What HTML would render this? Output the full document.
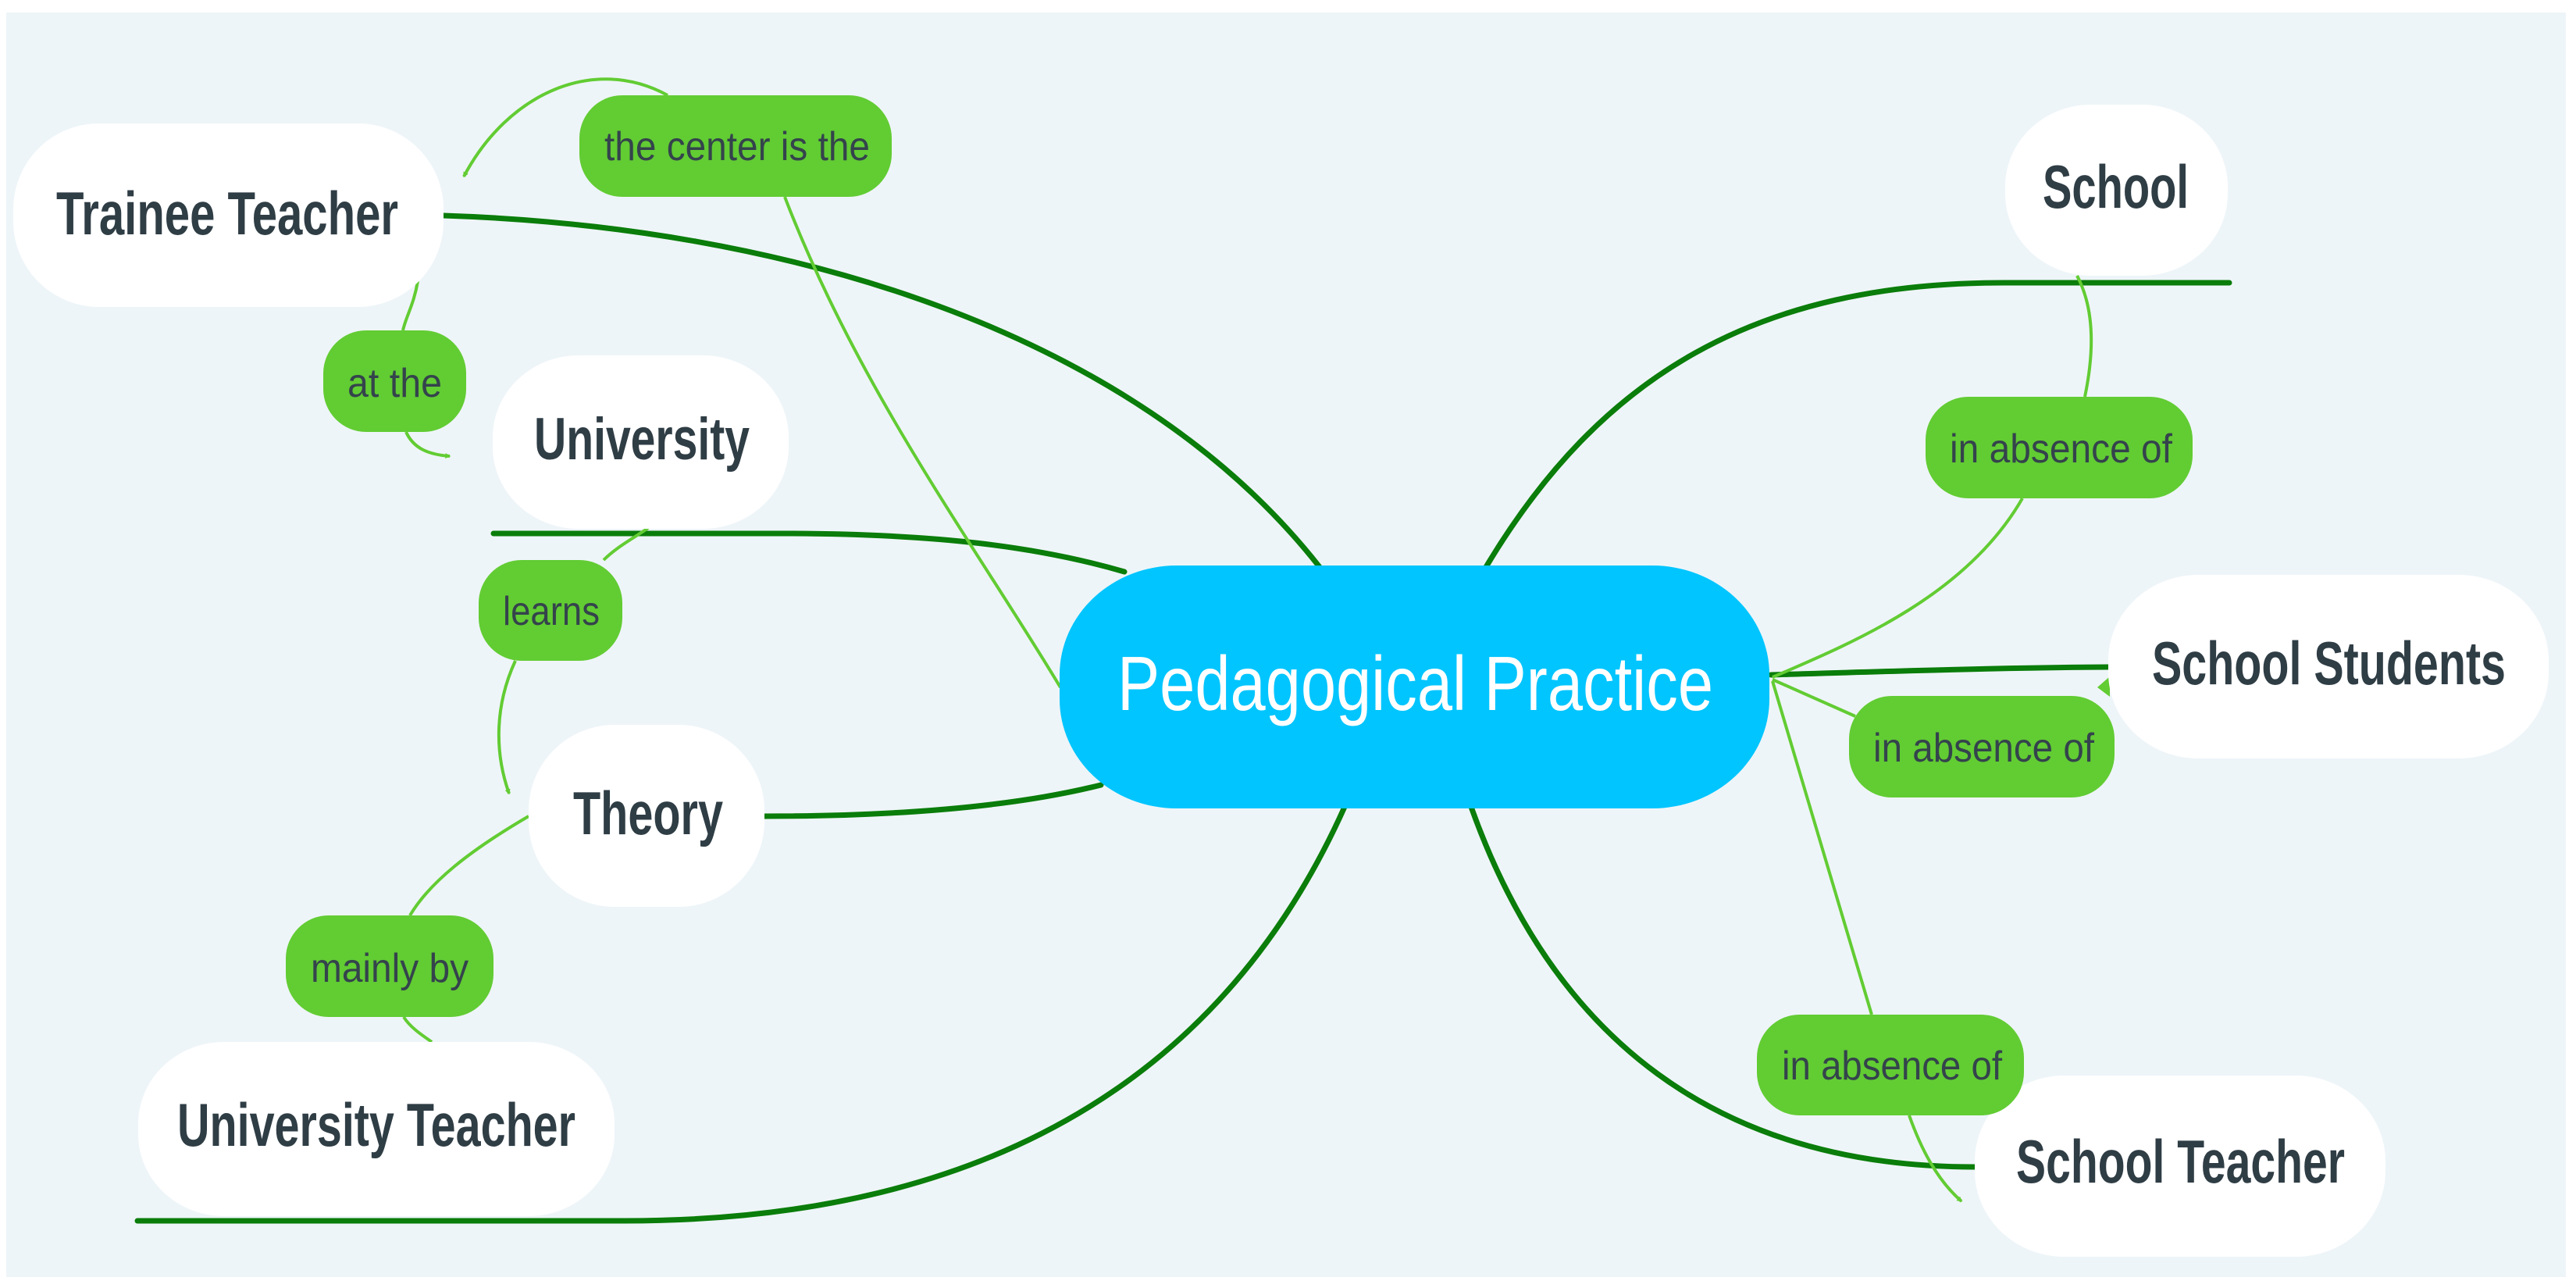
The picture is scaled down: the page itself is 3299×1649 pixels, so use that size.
<!DOCTYPE html>
<html><head><meta charset="utf-8"><style>
html,body{margin:0;padding:0;background:#fff;}
svg{display:block;}
.n{font-family:"Liberation Sans",sans-serif;font-weight:bold;fill:#2f3d45;}
.l{font-family:"Liberation Sans",sans-serif;fill:#34434c;}
</style></head><body>
<svg width="3299" height="1649" viewBox="0 0 3299 1649" xmlns="http://www.w3.org/2000/svg">
<defs>
<marker id="ah" viewBox="0 0 10 10" refX="8" refY="5" markerWidth="7" markerHeight="7" orient="auto" markerUnits="userSpaceOnUse"><path d="M0,0 L10,5 L0,10 Z" fill="#62cc33"/></marker>
</defs>
<rect x="8" y="16" width="3278" height="1619" fill="#eef5f8"/>

<!-- dark green main connectors -->
<g fill="none" stroke="#0a7d0a" stroke-width="7" stroke-linecap="round">
<path d="M568,276 C1000,290 1450,420 1690,726"/>
<path d="M632,683 L1000,683 C1200,683 1330,700 1440,732"/>
<path d="M979,1045 C1200,1045 1330,1025 1410,1005"/>
<path d="M176,1563 L800,1563 C1300,1563 1580,1350 1722,1033"/>
<path d="M1903,726 C2050,480 2250,362 2566,362 L2855,362"/>
<path d="M2268,864 C2400,860 2550,855 2700,854"/>
<path d="M1884,1033 C1990,1330 2200,1494 2529,1494"/>
</g>

<!-- light green connectors -->
<g fill="none" stroke="#62cc33" stroke-width="4">
<path d="M1005,252 C1100,500 1250,700 1358,880"/>
<path d="M855,122 C760,70 650,120 594,226" marker-end="url(#ah)"/>
<path d="M535,360 C530,390 520,405 516,423"/>
<path d="M520,553 C530,575 550,582 576,584" marker-end="url(#ah)"/>
<path d="M830,676 C810,690 790,700 773,717"/>
<path d="M660,846 C635,900 632,960 652,1016" marker-end="url(#ah)"/>
<path d="M677,1045 C600,1090 550,1130 525,1172"/>
<path d="M517,1302 C525,1315 540,1325 553,1334"/>
<path d="M2660,353 C2685,400 2680,460 2670,508"/>
<path d="M2590,638 C2520,760 2380,820 2270,867"/>
<path d="M2270,870 L2376,917"/>
<path d="M2270,872 L2397,1299"/>
<path d="M2445,1428 C2460,1470 2480,1510 2512,1538" marker-end="url(#ah)"/>
</g>
<path d="M2686,880 L2702,866 L2702,892 Z" fill="#62cc33"/>

<!-- central node -->
<rect x="1357" y="724" width="909" height="311" rx="150" ry="140" fill="#00c5ff"/>
<text x="1431" y="909" font-family="Liberation Sans, sans-serif" font-size="98" fill="#fff" textLength="763" lengthAdjust="spacingAndGlyphs">Pedagogical Practice</text>

<!-- white nodes -->
<g fill="#fff">
<rect x="17" y="158" width="551" height="235" rx="110" ry="110"/>
<rect x="631" y="455" width="379" height="222" rx="110" ry="105"/>
<rect x="677" y="928" width="302" height="233" rx="110" ry="110"/>
<rect x="177" y="1334" width="610" height="223" rx="110" ry="105"/>
<rect x="2568" y="134" width="285" height="219" rx="110" ry="105"/>
<rect x="2700" y="736" width="564" height="235" rx="115" ry="110"/>
<rect x="2529" y="1377" width="526" height="232" rx="115" ry="110"/>
</g>
<text class="n" x="72" y="300" font-size="78" textLength="438" lengthAdjust="spacingAndGlyphs">Trainee Teacher</text>
<text class="n" x="684" y="588" font-size="76" textLength="276" lengthAdjust="spacingAndGlyphs">University</text>
<text class="n" x="734" y="1068" font-size="78" textLength="192" lengthAdjust="spacingAndGlyphs">Theory</text>
<text class="n" x="227" y="1467" font-size="78" textLength="510" lengthAdjust="spacingAndGlyphs">University Teacher</text>
<text class="n" x="2616" y="266" font-size="78" textLength="187" lengthAdjust="spacingAndGlyphs">School</text>
<text class="n" x="2756" y="876" font-size="78" textLength="453" lengthAdjust="spacingAndGlyphs">School Students</text>
<text class="n" x="2582" y="1514" font-size="78" textLength="421" lengthAdjust="spacingAndGlyphs">School Teacher</text>

<!-- green labels -->
<g fill="#62cc33">
<rect x="742" y="122" width="400" height="130" rx="55" ry="55"/>
<rect x="414" y="423" width="183" height="130" rx="55" ry="55"/>
<rect x="613" y="717" width="184" height="129" rx="55" ry="55"/>
<rect x="366" y="1172" width="266" height="130" rx="55" ry="55"/>
<rect x="2466" y="508" width="342" height="130" rx="55" ry="55"/>
<rect x="2368" y="891" width="340" height="130" rx="55" ry="55"/>
<rect x="2250" y="1299" width="342" height="129" rx="55" ry="55"/>
</g>
<text class="l" x="774" y="205" font-size="52" textLength="340" lengthAdjust="spacingAndGlyphs">the center is the</text>
<text class="l" x="445" y="508" font-size="52" textLength="121" lengthAdjust="spacingAndGlyphs">at the</text>
<text class="l" x="644" y="800" font-size="52" textLength="124" lengthAdjust="spacingAndGlyphs">learns</text>
<text class="l" x="398" y="1257" font-size="52" textLength="202" lengthAdjust="spacingAndGlyphs">mainly by</text>
<text class="l" x="2497" y="592" font-size="52" textLength="285" lengthAdjust="spacingAndGlyphs">in absence of</text>
<text class="l" x="2399" y="975" font-size="52" textLength="283" lengthAdjust="spacingAndGlyphs">in absence of</text>
<text class="l" x="2282" y="1382" font-size="52" textLength="282" lengthAdjust="spacingAndGlyphs">in absence of</text>
</svg>
</body></html>
